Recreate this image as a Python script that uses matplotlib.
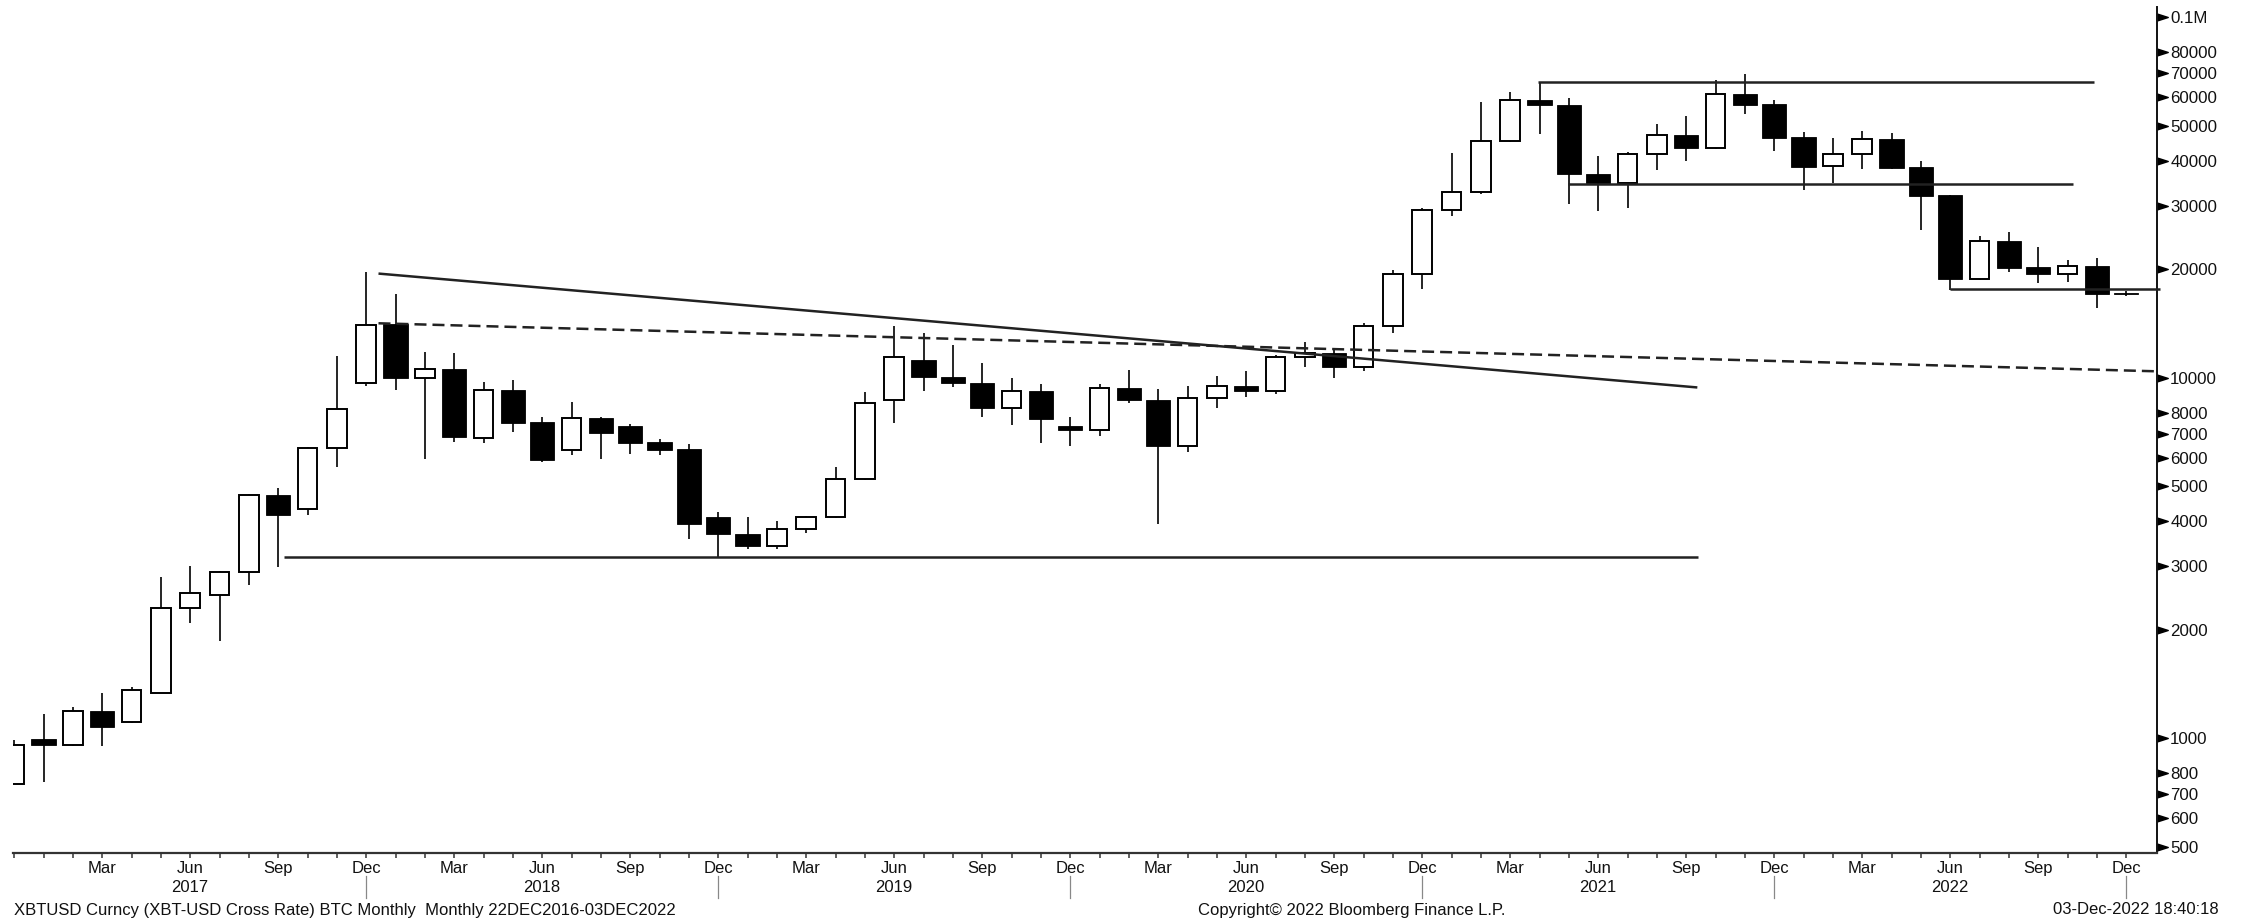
import numpy as np
import pandas as pd
import matplotlib
matplotlib.use("Agg")
import matplotlib.pyplot as plt
from matplotlib import transforms
from matplotlib.lines import Line2D

plt.rcParams['font.family'] = ['Liberation Sans', 'DejaVu Sans']

# monthly XBTUSD bars, Dec 2016 .. Dec 2022
months = pd.date_range('2016-12-01', '2022-12-01', freq='MS')
opens = [745, 994, 959, 1193, 1108, 1339, 2296, 2498, 2891, 4732, 4318, 6380,
         9655, 14080, 9987, 10600, 6820, 9270, 7540, 6318, 7752, 7366, 6617, 6335,
         4120, 3690, 3417, 3803, 4105, 5231, 8678, 11205, 10070, 9673, 8247, 9210,
         7366, 7168, 9352, 8678, 6470, 8806, 9491, 9190, 11397, 11740, 10734, 13910,
         19390, 29150, 32760, 45370, 59100, 57160, 36790, 34620, 41680, 47140, 43290, 61130,
         57300, 46450, 38580, 41680, 46070, 38320, 32070, 18760, 23900, 20230, 19360, 20410,
         17150]
highs = [990, 1166, 1223, 1334, 1385, 2808, 3006, 2920, 4770, 4937, 6420, 11520,
         19616, 17040, 11815, 11716, 9754, 9841, 7800, 8550, 7800, 7458, 6780, 6540,
         4253, 4120, 3998, 4130, 5647, 9134, 13945, 13285, 12305, 10970, 10000, 9594,
         7800, 9612, 10510, 9292, 9509, 10096, 10445, 11540, 12549, 12094, 14190, 19940,
         29520, 42100, 58000, 62150, 65990, 59500, 41290, 42400, 50550, 53110, 66970, 69450,
         59100, 48080, 46180, 48300, 47670, 39960, 32100, 24780, 25370, 23000, 21190, 21490,
         17380]
lows = [745, 758, 954, 954, 1100, 1335, 2093, 1862, 2663, 2982, 4163, 5670,
        9490, 9251, 5953, 6626, 6580, 7076, 5850, 6107, 5953, 6160, 6107, 3565,
        3190, 3350, 3350, 3702, 4080, 5220, 7509, 9193, 9411, 7772, 7384, 6580,
        6470, 6910, 8500, 3924, 6218, 8228, 8865, 9017, 10734, 9968, 10464, 13310,
        17630, 28100, 32300, 45000, 47450, 30280, 29070, 29510, 37610, 39930, 43000, 53790,
        42560, 33170, 34620, 37830, 37900, 25700, 17520, 18700, 19690, 18290, 18430, 15580,
        16900]
closes = [957, 959, 1193, 1078, 1362, 2296, 2525, 2900, 4732, 4163, 6397, 8190,
          14035, 9987, 10600, 6850, 9270, 7508, 5904, 7722, 7042, 6596, 6305, 3932,
          3681, 3417, 3816, 4111, 5231, 8530, 11397, 10050, 9655, 8247, 9210, 7701,
          7168, 9352, 8678, 6470, 8806, 9491, 9174, 11397, 11740, 10734, 13945, 19440,
          29200, 32760, 45270, 58940, 56960, 36670, 34620, 41680, 47140, 43290, 61130, 57160,
          46240, 38490, 41680, 46070, 38170, 31930, 18760, 23900, 20160, 19360, 20410, 17110,
          17020]

price_ticks = [500, 600, 700, 800, 1000, 2000, 3000, 4000, 5000, 6000, 7000, 8000,
               10000, 20000, 30000, 40000, 50000, 60000, 70000, 80000, 100000]
price_labels = [str(v) for v in price_ticks[:-1]] + ['0.1M']

# drawn trend lines, (month index, price)
falling_line = [(12.42, 19450), (57.38, 9400)]
dashed_line = [(12.42, 14160), (73.05, 10420)]
support_2018 = [(9.2, 3190), (57.4, 3190)]
range_top = [(51.95, 66000), (70.9, 66000)]
range_mid = [(52.97, 34400), (70.2, 34400)]
support_2022 = [(66.0, 17580), (73.15, 17580)]

W, H = 2244, 923
fig = plt.figure(figsize=(W / 100, H / 100), dpi=100)
ax = fig.add_axes([13 / W, 1 - 853 / H, 2144 / W, 846 / H])
ax.set_yscale('log')

x = np.arange(len(months))
o = np.array(opens, dtype=float)
c = np.array(closes, dtype=float)
up = c >= o

ax.vlines(x, lows, highs, color='black', lw=1.2, zorder=2)
ax.bar(x[up], (c - o)[up], bottom=o[up], width=0.665, color='white',
       edgecolor='black', lw=1.4, zorder=3)
ax.bar(x[~up], (o - c)[~up], bottom=c[~up], width=0.83, color='black',
       edgecolor='black', lw=0.6, zorder=3)

line_kw = dict(color='#222222', lw=1.8, zorder=4, solid_capstyle='butt')
for seg in [falling_line, support_2018, range_top, range_mid]:
    ax.plot(*zip(*seg), **line_kw)
ax.plot(*zip(*support_2022), clip_on=False, **line_kw)
ax.plot(*zip(*dashed_line), dashes=(4.8, 2.4), **line_kw)

ax.set_xlim(-0.04, 73.05)
ax.set_ylim(481, 106700)

# right price axis with arrow-head ticks
for side in ['left', 'top']:
    ax.spines[side].set_visible(False)
ax.spines['right'].set_color('#111111')
ax.spines['right'].set_linewidth(1.4)
ax.spines['bottom'].set_color('#333333')
ax.spines['bottom'].set_linewidth(1.6)

ax.yaxis.tick_right()
ax.yaxis.set_minor_locator(matplotlib.ticker.NullLocator())
ax.set_yticks(price_ticks)
ax.set_yticklabels(price_labels)
ax.tick_params(axis='y', length=0, pad=9.5, labelsize=12.2, labelcolor='#111111')

arrow_tr = transforms.blended_transform_factory(ax.transAxes, ax.transData)
ax.plot(np.ones(len(price_ticks)), price_ticks, ls='none',
        marker=[(0, -0.32), (1, 0), (0, 0.32)], ms=15.5, color='black',
        transform=arrow_tr, clip_on=False)

# month axis
label_idx = list(range(3, len(months), 3))
ax.set_xticks(label_idx)
ax.set_xticklabels([months[i].strftime('%b') for i in label_idx])
ax.set_xticks(x, minor=True)
ax.tick_params(axis='x', which='both', direction='out', length=3.6, width=1.1,
               color='#333333', pad=2, labelsize=12, labelcolor='#111111')

year_tr = transforms.blended_transform_factory(ax.transData, fig.transFigure)
for i, m in enumerate(months):
    if m.month == 6:
        ax.text(i, 1 - 887 / H, str(m.year), transform=year_tr, ha='center',
                va='center', fontsize=12, color='#111111')
    if m.month == 12 and i > 0:
        ax.add_line(Line2D([i, i], [1 - 876 / H, 1 - 898 / H], transform=year_tr,
                           color='#888888', lw=0.9, clip_on=False))

foot = dict(va='center', fontsize=12, color='#111111')
fig.text(14 / W, 1 - 910 / H,
         'XBTUSD Curncy (XBT-USD Cross Rate) BTC Monthly  Monthly 22DEC2016-03DEC2022',
         ha='left', **foot)
fig.text(1198 / W, 1 - 910 / H, 'Copyright\u00a9 2022 Bloomberg Finance L.P.',
         ha='left', **foot)
fig.text(2219 / W, 1 - 910 / H, '03-Dec-2022 18:40:18', ha='right', **foot)

fig.savefig('out.png', dpi=100, facecolor='white')
